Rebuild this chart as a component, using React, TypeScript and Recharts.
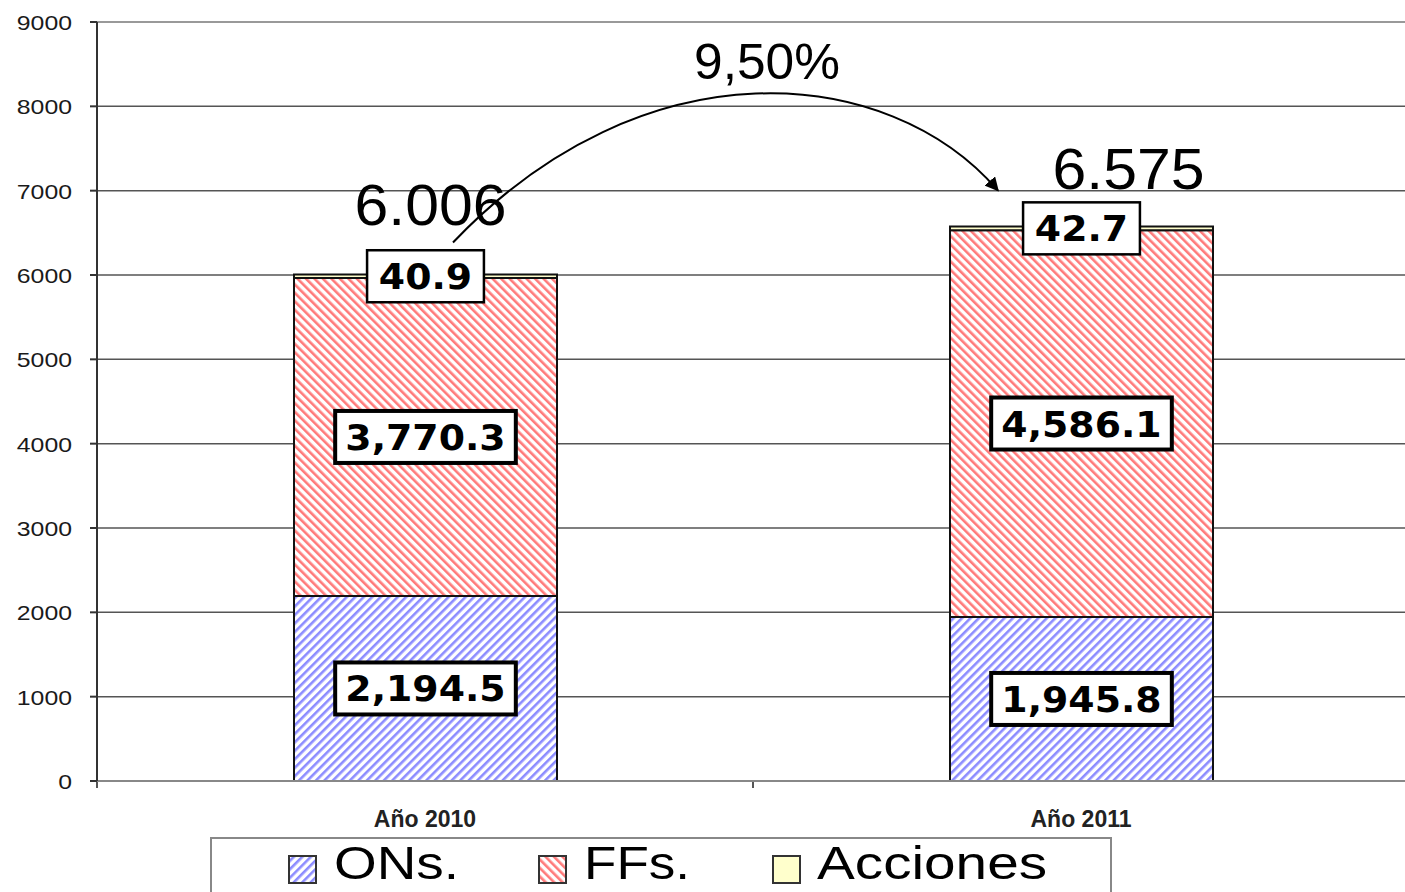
import React from 'react';
import { BarChart, Bar, XAxis, YAxis, CartesianGrid, LabelList, Customized } from 'recharts';

const categories = ['Año 2010', 'Año 2011'];
const onsValues = [2194.5, 1945.8];
const ffsValues = [3770.3, 4586.1];
const accionesValues = [40.9, 42.7];
const totalLabels = ['6.006', '6.575'];
const growthLabel = '9,50%';
const yTicks = [0, 1000, 2000, 3000, 4000, 5000, 6000, 7000, 8000, 9000];
const legendNames = ['ONs.', 'FFs.', 'Acciones'];

const data = categories.map((c, i) => ({
  name: c,
  ons: onsValues[i],
  ffs: ffsValues[i],
  acciones: accionesValues[i],
  total: onsValues[i] + ffsValues[i] + accionesValues[i],
}));

const CHART_W = 1412;
const CHART_H = 892;
const MARGIN = { top: 22, right: 3, bottom: 71, left: 0 };
const Y_W = 97;
const X_H = 40;
const PLOT_L = MARGIN.left + Y_W;
const PLOT_T = MARGIN.top;
const PLOT_W = CHART_W - MARGIN.right - PLOT_L;
const PLOT_H = CHART_H - MARGIN.top - MARGIN.bottom - X_H;
const Y_MAX = 9000;
const yOf = (v: number) => PLOT_T + PLOT_H * (1 - v / Y_MAX);
const band = PLOT_W / categories.length;
const xOf = (i: number) => PLOT_L + band * (i + 0.5);

const TOTAL_DX = [5, 47];
const TOTAL_DY = [-50, -38];

const fmt = (v: number) =>
  v.toLocaleString('en-US', { minimumFractionDigits: 1, maximumFractionDigits: 1 });

const charW = (s: string, fs: number) => {
  let w = 0;
  for (const ch of s) {
    if (ch === ',' || ch === '.') w += 0.38;
    else w += 0.696;
  }
  return w * fs;
};

const BoxLabel = (props: any) => {
  const { x, y, width, height, value, thin } = props;
  const fs = 36;
  const text = fmt(Number(value));
  const tw = charW(text, fs);
  const bw = tw + 28;
  const bh = 52;
  const cx = Number(x) + Number(width) / 2;
  const cy = Number(y) + Number(height) / 2;
  return (
    <g>
      <rect x={cx - bw / 2} y={cy - bh / 2} width={bw} height={bh} fill="#fff" stroke="#000" strokeWidth={thin ? 2.5 : 4} />
      <text x={cx} y={cy + 13} textAnchor="middle" fontFamily="'DejaVu Sans', Verdana, sans-serif" fontWeight="bold" fontSize={fs} fill="#000" textLength={tw * 1.05} lengthAdjust="spacingAndGlyphs">
        {text}
      </text>
    </g>
  );
};

const TotalLabel = (props: any) => {
  const { x, y, width, index } = props;
  const cx = Number(x) + Number(width) / 2 + TOTAL_DX[index];
  return (
    <text x={cx} y={Number(y) + TOTAL_DY[index]} textAnchor="middle" fontFamily="'Liberation Sans', Arial, sans-serif" fontSize={57} fill="#000" textLength={152} lengthAdjust="spacingAndGlyphs">
      {totalLabels[index]}
    </text>
  );
};

const YTick = (props: any) => {
  const { x, y, payload } = props;
  const s = String(payload.value);
  const len = s.length * 13.8;
  return (
    <text x={Number(x)} y={Number(y) + 8} textAnchor="end" fontFamily="'Liberation Sans', Arial, sans-serif" fontSize={21} fill="#1a1a1a" textLength={len} lengthAdjust="spacingAndGlyphs">
      {s}
    </text>
  );
};

const Overlay = () => {
  const t0 = data[0].total;
  const t1 = data[1].total;
  const p0 = { x: xOf(0) + 28, y: yOf(t0) - 32 };
  const p3 = { x: xOf(1) - 83, y: yOf(t1) - 36 };
  const c1 = { x: p0.x + 190, y: yOf(8400) - 30 };
  const c2 = { x: p3.x - 110, y: yOf(8400) - 10 };
  const mid = PLOT_L + PLOT_W / 2;
  return (
    <g>
      <path d={`M${p0.x},${p0.y} C${c1.x},${c1.y} ${c2.x},${c2.y} ${p3.x},${p3.y}`} fill="none" stroke="#000" strokeWidth={2} markerEnd="url(#arrowHead)" />
      <text x={mid + 14} y={yOf(8700) + 32} textAnchor="middle" fontFamily="'Liberation Sans', Arial, sans-serif" fontSize={50} fill="#000" textLength={146} lengthAdjust="spacingAndGlyphs">
        {growthLabel}
      </text>
      {[0, 1, 2].map((k) => (
        <line key={k} x1={PLOT_L + band * k} x2={PLOT_L + band * k} y1={PLOT_T + PLOT_H} y2={PLOT_T + PLOT_H + 7} stroke="#555" strokeWidth={2} />
      ))}
      <line x1={PLOT_L} x2={CHART_W} y1={PLOT_T} y2={PLOT_T} stroke="#999" strokeWidth={2} />
    </g>
  );
};

const Defs = () => (
  <defs>
    <pattern id="blueStripe" patternUnits="userSpaceOnUse" width="6" height="6" patternTransform="rotate(45)">
      <rect width="6" height="6" fill="#fff" />
      <rect width="2.6" height="6" fill="#8c8cff" />
    </pattern>
    <pattern id="redStripe" patternUnits="userSpaceOnUse" width="6" height="6" patternTransform="rotate(-45)">
      <rect width="6" height="6" fill="#fff" />
      <rect width="2.6" height="6" fill="#ff7a7a" />
    </pattern>
    <marker id="arrowHead" viewBox="0 0 10 10" refX="9" refY="5" markerWidth="7" markerHeight="7" orient="auto">
      <path d="M0,0 L10,5 L0,10 z" fill="#000" />
    </marker>
  </defs>
);

const Legend = () => {
  const items = [
    { name: legendNames[0], fill: 'url(#lgBlue)', ix: 79, tx: 124, tl: 125 },
    { name: legendNames[1], fill: 'url(#lgRed)', ix: 329, tx: 374, tl: 106 },
    { name: legendNames[2], fill: '#ffffcc', ix: 563, tx: 607, tl: 230 },
  ];
  return (
    <svg width={902} height={55} style={{ position: 'absolute', left: 210, top: 837 }}>
      <defs>
        <pattern id="lgBlue" patternUnits="userSpaceOnUse" width="6" height="6" patternTransform="rotate(45)">
          <rect width="6" height="6" fill="#fff" />
          <rect width="2.6" height="6" fill="#8c8cff" />
        </pattern>
        <pattern id="lgRed" patternUnits="userSpaceOnUse" width="6" height="6" patternTransform="rotate(-45)">
          <rect width="6" height="6" fill="#fff" />
          <rect width="2.6" height="6" fill="#ff7a7a" />
        </pattern>
      </defs>
      <rect x={1} y={1} width={900} height={70} fill="#fff" stroke="#888" strokeWidth={2} />
      {items.map((it) => (
        <g key={it.name}>
          <rect x={it.ix} y={19} width={27} height={27} fill={it.fill} stroke="#333" strokeWidth={2} />
          <text x={it.tx} y={42} fontFamily="'Liberation Sans', Arial, sans-serif" fontSize={46} fill="#000" textLength={it.tl} lengthAdjust="spacingAndGlyphs">
            {it.name}
          </text>
        </g>
      ))}
    </svg>
  );
};

export default function App() {
  return (
    <div style={{ position: 'absolute', left: 0, top: 0, width: 1405, height: 892, overflow: 'hidden', background: '#fff' }}>
      <BarChart width={CHART_W} height={CHART_H} data={data} margin={MARGIN} barSize={263}>
        <Customized component={<Defs />} />
        <CartesianGrid vertical={false} stroke="#555" strokeWidth={1.5} />
        <XAxis
          dataKey="name"
          height={X_H}
          tickLine={false}
          axisLine={{ stroke: '#888', strokeWidth: 2 }}
          tick={{ fontFamily: "'Liberation Sans', Arial, sans-serif", fontSize: 23, fontWeight: 'bold', fill: '#222' }}
          tickMargin={24}
        />
        <YAxis
          width={Y_W}
          domain={[0, Y_MAX]}
          ticks={yTicks}
          interval={0}
          tickSize={7}
          tickMargin={18}
          axisLine={{ stroke: '#333', strokeWidth: 2 }}
          tickLine={{ stroke: '#333', strokeWidth: 2 }}
          tick={<YTick />}
        />
        <Bar dataKey="ons" stackId="a" fill="url(#blueStripe)" stroke="#111" strokeWidth={2} isAnimationActive={false}>
          <LabelList dataKey="ons" content={<BoxLabel />} />
        </Bar>
        <Bar dataKey="ffs" stackId="a" fill="url(#redStripe)" stroke="#111" strokeWidth={2} isAnimationActive={false}>
          <LabelList dataKey="ffs" content={<BoxLabel />} />
        </Bar>
        <Bar dataKey="acciones" stackId="a" fill="#ffffcc" stroke="#111" strokeWidth={2} isAnimationActive={false}>
          <LabelList dataKey="acciones" content={<BoxLabel thin />} />
          <LabelList dataKey="total" content={<TotalLabel />} />
        </Bar>
        <Customized component={<Overlay />} />
      </BarChart>
      <Legend />
    </div>
  );
}
